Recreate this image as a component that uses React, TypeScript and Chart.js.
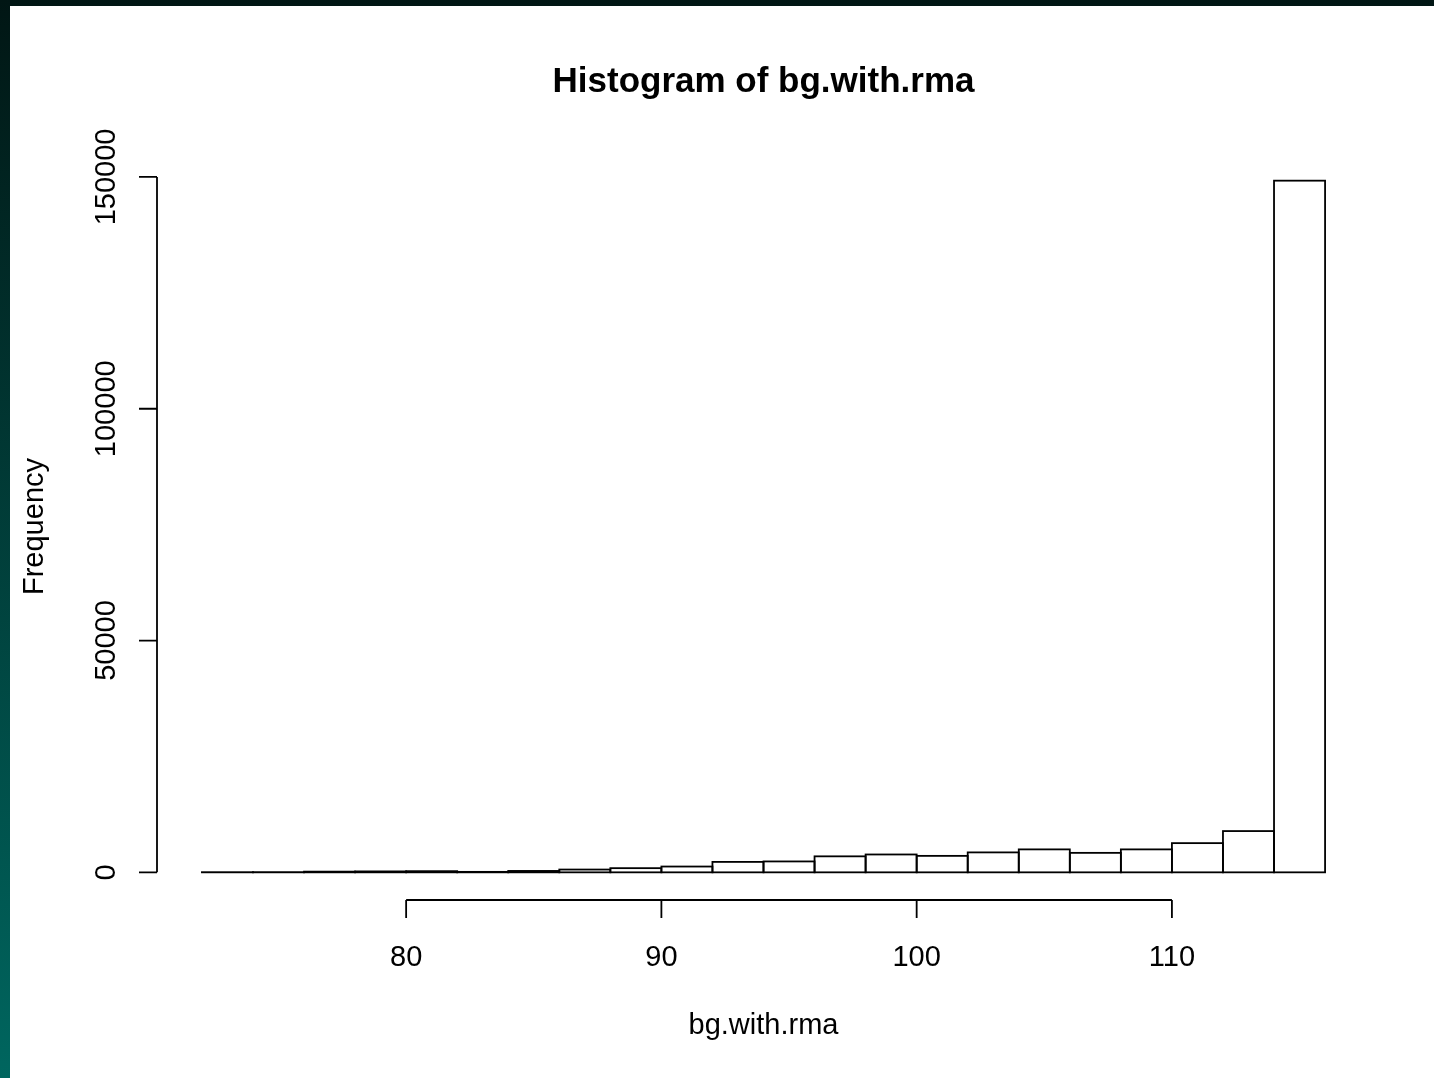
import { useEffect, useRef } from "react";
import { Chart, registerables } from "chart.js";

Chart.register(...registerables);

// Histogram bin edges and counts
const breaks = [72, 74, 76, 78, 80, 82, 84, 86, 88, 90, 92, 94, 96, 98, 100, 102, 104, 106, 108, 110, 112, 114, 116];
const counts = [30, 40, 150, 200, 250, 100, 300, 600, 900, 1250, 2250, 2350, 3450, 3850, 3550, 4300, 4950, 4200, 4950, 6300, 8900, 149200];

const xTicks = [80, 90, 100, 110];
const yTicks = [0, 50000, 100000, 150000];
const yTickLabels = ["0", "50000", "100000", "150000"];

const titleText = "Histogram of bg.with.rma";
const xTitle = "bg.with.rma";
const yTitle = "Frequency";

const FONT = '"Liberation Sans", Arial, Helvetica, sans-serif';
const LINE = 1.8;

// R-like range extension of 4% on each side
const xMin = breaks[0];
const xMax = breaks[breaks.length - 1];
const xPad = (xMax - xMin) * 0.04;
const yTop = Math.max(...counts);
const yPad = yTop * 0.04;

const baseAxesPlugin = {
  id: "baseAxes",
  afterDatasetsDraw(chart: any) {
    const ctx = chart.ctx;
    const meta = chart.getDatasetMeta(0);
    ctx.save();
    ctx.strokeStyle = "#000";
    ctx.lineWidth = LINE;
    ctx.lineJoin = "miter";
    meta.data.forEach((bar: any) => {
      const { x, y, base, width } = bar.getProps(["x", "y", "base", "width"], true);
      ctx.strokeRect(x - width / 2, y, width, base - y);
    });
    ctx.restore();
  },
  afterDraw(chart: any) {
    const { ctx, chartArea } = chart;
    const xs = chart.scales.x;
    const ys = chart.scales.y;
    const tick = 18;
    ctx.save();
    ctx.strokeStyle = "#000";
    ctx.fillStyle = "#000";
    ctx.lineWidth = LINE;

    // bottom axis
    const ay = chartArea.bottom;
    const x0 = xs.getPixelForValue(xTicks[0]);
    const x1 = xs.getPixelForValue(xTicks[xTicks.length - 1]);
    ctx.beginPath();
    ctx.moveTo(x0, ay);
    ctx.lineTo(x1, ay);
    xTicks.forEach((v) => {
      const px = xs.getPixelForValue(v);
      ctx.moveTo(px, ay);
      ctx.lineTo(px, ay + tick);
    });
    ctx.stroke();
    ctx.font = `29px ${FONT}`;
    ctx.textAlign = "center";
    ctx.textBaseline = "alphabetic";
    xTicks.forEach((v) => {
      ctx.fillText(String(v), xs.getPixelForValue(v), ay + 66);
    });

    // left axis
    const ax = chartArea.left;
    const y0 = ys.getPixelForValue(yTicks[0]);
    const y1 = ys.getPixelForValue(yTicks[yTicks.length - 1]);
    ctx.beginPath();
    ctx.moveTo(ax, y0);
    ctx.lineTo(ax, y1);
    yTicks.forEach((v) => {
      const py = ys.getPixelForValue(v);
      ctx.moveTo(ax, py);
      ctx.lineTo(ax - tick, py);
    });
    ctx.stroke();
    yTicks.forEach((v, i) => {
      const py = ys.getPixelForValue(v);
      ctx.save();
      ctx.translate(ax - 42, py);
      ctx.rotate(-Math.PI / 2);
      ctx.textAlign = "center";
      ctx.fillText(yTickLabels[i], 0, 0);
      ctx.restore();
    });

    const cx = (chartArea.left + chartArea.right) / 2;
    const cy = (chartArea.top + chartArea.bottom) / 2;

    // axis titles
    ctx.textAlign = "center";
    ctx.fillText(xTitle, cx, chartArea.bottom + 134);
    ctx.save();
    ctx.translate(chartArea.left - 114, cy);
    ctx.rotate(-Math.PI / 2);
    ctx.fillText(yTitle, 0, 0);
    ctx.restore();

    // main title
    ctx.font = `bold 35px ${FONT}`;
    ctx.fillText(titleText, cx, chartArea.top - 61);
    ctx.restore();
  },
};

export default function App() {
  const ref = useRef<HTMLCanvasElement | null>(null);

  useEffect(() => {
    if (!ref.current) return;
    const points = counts.map((c, i) => ({ x: (breaks[i] + breaks[i + 1]) / 2, y: c }));
    const chart = new Chart(ref.current, {
      type: "bar",
      data: {
        datasets: [
          {
            data: points as any,
            backgroundColor: "#ffffff",
            borderWidth: 0,
            barPercentage: 1,
            categoryPercentage: 1,
          },
        ],
      },
      options: {
        responsive: false,
        animation: false,
        devicePixelRatio: 1,
        layout: { padding: { left: 147, right: 64, top: 147, bottom: 178 } },
        plugins: { legend: { display: false }, tooltip: { enabled: false }, title: { display: false } },
        scales: {
          x: { type: "linear", min: xMin - xPad, max: xMax + xPad, offset: false, display: false },
          y: { type: "linear", min: -yPad, max: yTop + yPad, display: false },
        },
      },
      plugins: [baseAxesPlugin],
    });
    return () => chart.destroy();
  }, []);

  return (
    <div
      style={{
        position: "fixed",
        left: 0,
        top: 0,
        width: 1434,
        height: 1078,
        background: "linear-gradient(to bottom, #011614, #00665f)",
        overflow: "hidden",
      }}
    >
      <canvas
        ref={ref}
        width={1424}
        height={1072}
        style={{ position: "absolute", left: 10, top: 6, width: 1424, height: 1072, background: "#ffffff" }}
      />
    </div>
  );
}
